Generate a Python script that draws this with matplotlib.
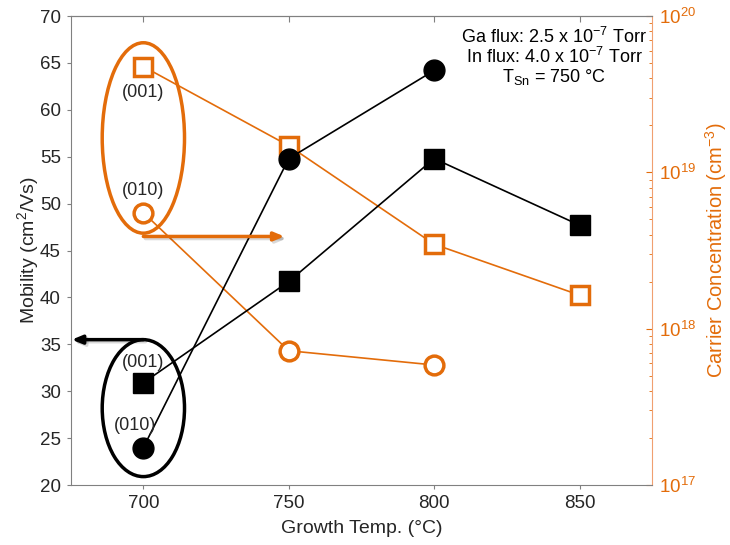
import matplotlib
matplotlib.use('Agg')
import matplotlib.pyplot as plt
import matplotlib.patheffects as pe
from matplotlib.patches import Ellipse
from matplotlib.ticker import LogLocator, LogFormatterMathtext, NullFormatter

plt.rcParams['font.family'] = ['Liberation Sans', 'DejaVu Sans']
plt.rcParams['mathtext.fontset'] = 'custom'
plt.rcParams['mathtext.rm'] = 'Liberation Sans'
plt.rcParams['mathtext.it'] = 'Liberation Sans:italic'

ORANGE = '#E36C0A'
SPINE_OR = '#F0A070'
GREY = '#808080'
TXT = '#262626'

# growth temperatures and measured values
temps_001 = [700, 750, 800, 850]
temps_010 = [700, 750, 800]
mob_001 = [30.9, 41.7, 54.8, 47.7]        # cm^2/Vs
mob_010 = [24.0, 54.8, 64.2]
conc_001 = [4.75e19, 1.48e19, 3.47e18, 1.64e18]   # cm^-3
conc_010 = [5.52e18, 7.23e17, 5.86e17]

xticks = [700, 750, 800, 850]
yticks = [20, 25, 30, 35, 40, 45, 50, 55, 60, 65, 70]

fig = plt.figure(figsize=(7.3, 5.45), dpi=100)
ax = fig.add_axes([0.0968, 0.110, 0.7967, 0.8606])
ax2 = ax.twinx()
ax.set_zorder(ax2.get_zorder() + 1)
ax.patch.set_visible(False)

# carrier concentration (right, log)
ax2.plot(temps_001, conc_001, color=ORANGE, lw=1.2, marker='s', ms=13.5,
         mfc='white', mec=ORANGE, mew=2.5)
ax2.plot(temps_010, conc_010, color=ORANGE, lw=1.2, marker='o', ms=13.5,
         mfc='white', mec=ORANGE, mew=2.5)
ax2.set_yscale('log')
ax2.set_ylim(1e17, 1e20)
ax2.yaxis.set_major_locator(LogLocator(base=10, numticks=10))
ax2.yaxis.set_major_formatter(LogFormatterMathtext())
ax2.yaxis.set_minor_locator(LogLocator(base=10, subs=range(2, 10), numticks=10))
ax2.yaxis.set_minor_formatter(NullFormatter())
ax2.tick_params(axis='y', which='major', direction='in', length=4, color=ORANGE,
                labelcolor=ORANGE, labelsize=13.5, pad=5)
ax2.tick_params(axis='y', which='minor', direction='in', length=2.5, color=ORANGE)
ax2.set_ylabel('Carrier Concentration (cm$^{-3}$)', color=ORANGE, fontsize=14.5,
               labelpad=5)
for s in ['left', 'top', 'bottom']:
    ax2.spines[s].set_visible(False)
ax2.spines['right'].set_color(SPINE_OR)

# mobility (left)
ax.plot(temps_001, mob_001, color='black', lw=1.2, marker='s', ms=15,
        mfc='black', mec='black')
ax.plot(temps_010, mob_010, color='black', lw=1.2, marker='o', ms=15,
        mfc='black', mec='black')
ax.set_xlim(675, 875)
ax.set_ylim(20, 70)
ax.set_xticks(xticks)
ax.set_yticks(yticks)
ax.tick_params(axis='both', direction='out', length=3, color=GREY,
               labelsize=13.5, labelcolor=TXT, pad=4)
ax.set_xlabel('Growth Temp. (°C)', fontsize=14, color=TXT, labelpad=6)
ax.set_ylabel('Mobility (cm$^2$/Vs)', fontsize=14, color=TXT, labelpad=-1)
for s in ['left', 'top', 'bottom']:
    ax.spines[s].set_color(GREY)
ax.spines['right'].set_visible(False)

# inward ticks along the top edge
top = ax.secondary_xaxis('top')
top.set_xticks(xticks)
top.tick_params(direction='in', length=4, color=GREY, labeltop=False)
top.spines['top'].set_color(GREY)

# grouping ellipses and arrows
ax.add_patch(Ellipse((700, 57.0), 28.3, 20.3, fill=False, ec=ORANGE, lw=2.5,
                     zorder=4))
ax.add_patch(Ellipse((700, 28.2), 28.3, 14.6, fill=False, ec='black', lw=2.5,
                     zorder=4))
shadow = [pe.SimpleLineShadow(offset=(1.5, -1.5), alpha=0.15), pe.Normal()]
ax.annotate('', xy=(748.5, 46.5), xytext=(700, 46.5),
            arrowprops=dict(arrowstyle='-|>,head_length=0.6,head_width=0.25',
                            color=ORANGE, lw=2.5, shrinkA=0, shrinkB=0,
                            path_effects=shadow), zorder=5)
ax.annotate('', xy=(675.4, 35.5), xytext=(700, 35.5),
            arrowprops=dict(arrowstyle='-|>,head_length=0.6,head_width=0.25',
                            color='black', lw=2.5, shrinkA=0, shrinkB=0,
                            path_effects=shadow), zorder=5, annotation_clip=False)

# orientation labels
ax.text(700, 61.9, '(001)', ha='center', va='center', fontsize=13, color=TXT)
ax.text(700, 51.4, '(010)', ha='center', va='center', fontsize=13, color=TXT)
ax.text(700, 33.1, '(001)', ha='center', va='center', fontsize=13, color=TXT)
ax.text(697, 26.3, '(010)', ha='center', va='center', fontsize=13, color=TXT)

# growth conditions
ax.text(0.831, 0.956, 'Ga flux: 2.5 x 10$^{-7}$ Torr', transform=ax.transAxes,
        ha='center', va='center', fontsize=13, color='black')
ax.text(0.831, 0.913, 'In flux: 4.0 x 10$^{-7}$ Torr', transform=ax.transAxes,
        ha='center', va='center', fontsize=13, color='black')
ax.text(0.831, 0.871, 'T$_{\\rm Sn}$ = 750 °C', transform=ax.transAxes,
        ha='center', va='center', fontsize=13, color='black')

fig.savefig('out.png', dpi=100)
